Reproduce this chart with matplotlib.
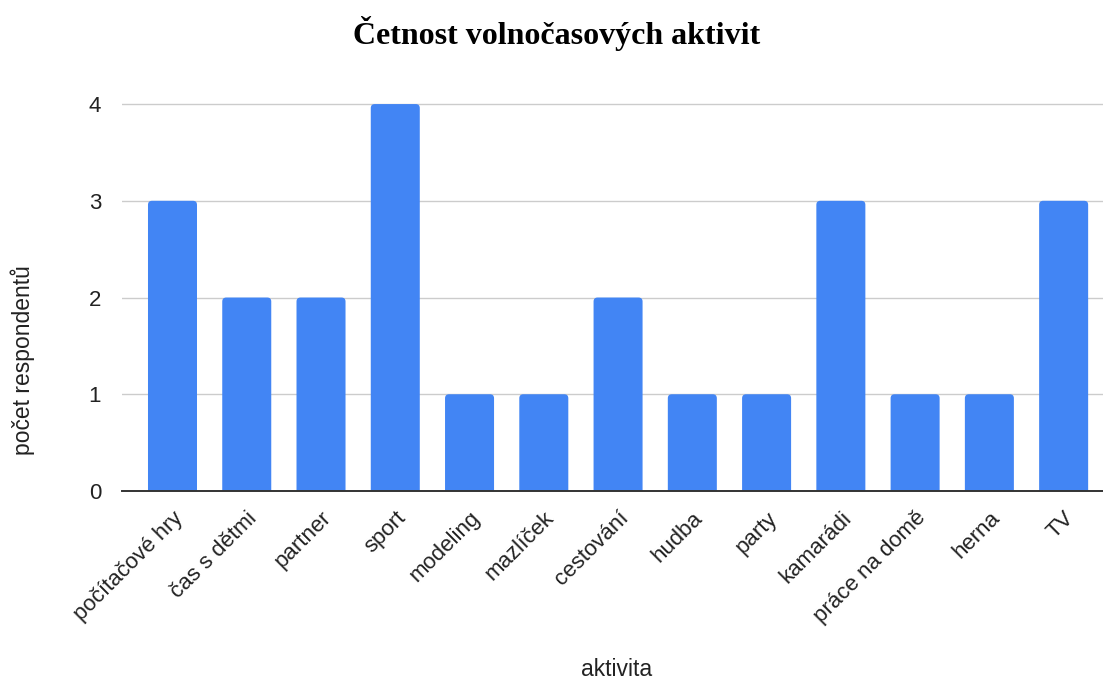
import matplotlib.pyplot as plt
from matplotlib.patches import FancyBboxPatch
from matplotlib.transforms import ScaledTranslation

# leisure activities and how many respondents mentioned each
activities = [
    'počítačové hry', 'čas s dětmi', 'partner', 'sport', 'modeling',
    'mazlíček', 'cestování', 'hudba', 'party', 'kamarádi',
    'práce na domě', 'herna', 'TV',
]
counts = [3, 2, 2, 4, 1, 1, 2, 1, 1, 3, 1, 1, 3]
y_ticks = [0, 1, 2, 3, 4]

BAR_COLOR = '#4285F4'
BAR_WIDTH = 0.66
TEXT_COLOR = '#222222'

plt.rcParams['font.family'] = ['Liberation Sans', 'DejaVu Sans']

fig = plt.figure(figsize=(11.03, 6.82), dpi=100)
ax = fig.add_axes([0.1106, 0.2801, 0.8894, 0.5744])
ax.set_xlim(-0.68, 12.53)
ax.set_ylim(0, 4.05)

# bars with slightly rounded tops; the bottom corners sit below the axis and get clipped
x = list(range(len(activities)))
x_per_px = (12.53 + 0.68) / (0.8894 * 1103)
y_per_px = 4.05 / (0.5744 * 682)
radius = 4 * x_per_px
below = 6 * y_per_px
for xi, c in zip(x, counts):
    patch = FancyBboxPatch((xi - BAR_WIDTH / 2, -below), BAR_WIDTH, c + below,
                           boxstyle=f'round,pad=0,rounding_size={radius}',
                           mutation_aspect=y_per_px / x_per_px,
                           facecolor=BAR_COLOR, edgecolor='none', zorder=2)
    ax.add_patch(patch)

ax.set_yticks(y_ticks)
ax.set_yticklabels([str(v) for v in y_ticks], fontsize=16, color=TEXT_COLOR)
ax.set_xticks(x)
labels = ax.set_xticklabels(activities, rotation=45, ha='right',
                            rotation_mode='anchor', fontsize=16, color=TEXT_COLOR)
# nudge rotated labels so their ends sit just right of the bar centres
offset = ScaledTranslation(20 / 100, 0, fig.dpi_scale_trans)
for lbl in labels:
    lbl.set_transform(lbl.get_transform() + offset)

ax.tick_params(axis='both', length=0)
ax.tick_params(axis='y', pad=15)
ax.tick_params(axis='x', pad=12)

ax.grid(axis='y', color='#cccccc', linewidth=1.0, zorder=0)
for side in ('top', 'right', 'left'):
    ax.spines[side].set_visible(False)
ax.spines['bottom'].set_color('#333333')
ax.spines['bottom'].set_linewidth(1.4)
ax.spines['bottom'].set_zorder(3)

ax.set_ylabel('počet respondentů', fontsize=16.5, color=TEXT_COLOR)
ax.yaxis.set_label_coords(-0.089, 0.334)
fig.text(0.559, 0.019, 'aktivita', ha='center', va='center', fontsize=16.5, color=TEXT_COLOR)

fig.text(0.505, 0.951, 'Četnost volnočasových aktivit', ha='center', va='center',
         fontsize=23, fontweight='bold', family=['Liberation Serif', 'DejaVu Serif'])

fig.savefig('out.png', dpi=100)
